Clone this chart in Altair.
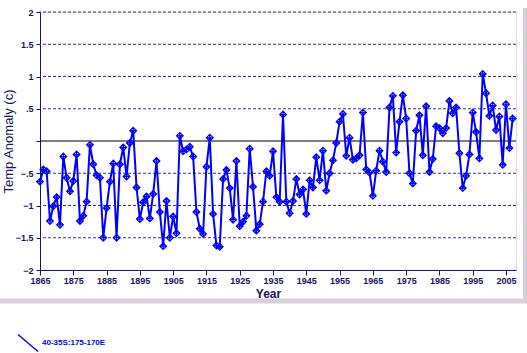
import altair as alt
import pandas as pd

years = list(range(1865, 2008))
anomaly = [
    -0.63, -0.44, -0.47, -1.24, -1.01, -0.87, -1.30, -0.24, -0.57, -0.78,
    -0.62, -0.21, -1.24, -1.16, -0.94, -0.06, -0.36, -0.53, -0.57, -1.50,
    -1.04, -0.63, -0.35, -1.50, -0.36, -0.10, -0.55, -0.03, 0.16, -0.72,
    -1.21, -0.95, -0.86, -1.20, -0.82, -0.31, -1.10, -1.63, -0.93, -1.50,
    -1.17, -1.43, 0.08, -0.16, -0.13, -0.09, -0.24, -1.10, -1.36, -1.44,
    -0.40, 0.05, -1.13, -1.62, -1.64, -0.59, -0.45, -0.73, -1.22, -0.31,
    -1.32, -1.25, -1.16, -0.12, -0.71, -1.39, -1.29, -0.94, -0.47, -0.54,
    -0.16, -0.87, -0.94, 0.41, -0.94, -1.12, -0.93, -0.59, -0.83, -0.75,
    -1.13, -0.61, -0.72, -0.25, -0.61, -0.15, -0.77, -0.50, -0.30, -0.03,
    0.30, 0.42, -0.23, 0.05, -0.29, -0.27, -0.22, 0.44, -0.44, -0.49,
    -0.85, -0.46, -0.15, -0.32, -0.48, 0.52, 0.70, -0.18, 0.30, 0.71,
    0.35, -0.50, -0.66, 0.16, 0.40, -0.22, 0.54, -0.48, -0.28, 0.23,
    0.20, 0.12, 0.20, 0.62, 0.43, 0.52, -0.19, -0.73, -0.54, -0.21,
    0.44, 0.14, -0.27, 1.04, 0.74, 0.39, 0.55, 0.17, 0.38, -0.37,
    0.57, -0.11, 0.35,
]
series_name = "40-35S:175-170E"
x_ticks = list(range(1865, 2006, 10))
y_ticks = [-2, -1.5, -1, -0.5, 0, 0.5, 1, 1.5, 2]
grid_values = [-1.5, -1, -0.5, 0.5, 1, 1.5, 2]

df = pd.DataFrame({"Year": years, "Anomaly": anomaly, "Series": series_name})
grid_df = pd.DataFrame({"v": grid_values})
zero_df = pd.DataFrame({"v": [0]})
one_df = pd.DataFrame({"a": [0]})

NAVY = "#14145a"
FONT = "Liberation Sans"

x_scale = alt.Scale(domain=[1865, 2008], nice=False, zero=False)
y_scale = alt.Scale(domain=[-2, 2], nice=False)

x_axis = alt.Axis(values=x_ticks, format="d", grid=False, labelFontSize=9,
                  labelFontWeight="bold", labelColor=NAVY, labelFont=FONT,
                  domainColor=NAVY, tickColor=NAVY, tickSize=5, labelPadding=1,
                  labelOverlap=False,
                  title="Year", titleFont=FONT, titleFontSize=12,
                  titleFontWeight="bold", titleColor=NAVY, titleX=228,
                  titleY=18, labelFlush=False)
y_axis = alt.Axis(values=y_ticks, grid=False, labelFontSize=9,
                  labelFontWeight="bold", labelColor=NAVY, labelFont=FONT,
                  domainColor=NAVY, tickColor=NAVY, tickSize=4, labelPadding=3,
                  labelOverlap=False,
                  labelExpr="datum.value == 0 ? '' : replace(format(datum.value, ''), '0.', '.')",
                  title="Temp Anomaly (c)", titleFont=FONT, titleFontSize=13,
                  titleFontWeight="normal", titleColor=NAVY, titleX=-25)

grid = alt.Chart(grid_df).mark_rule(color="#333388", strokeDash=[3, 2], strokeWidth=1).encode(
    y=alt.Y("v:Q", scale=y_scale, axis=y_axis)
)
zero = alt.Chart(zero_df).mark_rule(color="#000000", strokeWidth=1.2).encode(
    y=alt.Y("v:Q", scale=y_scale, axis=y_axis)
)

marker = "M-1,0L0,-1L1,0L0,1Z M-1,0L1,0 M0,-1L0,1"

line = alt.Chart(df).mark_line(strokeWidth=2).encode(
    x=alt.X("Year:Q", scale=x_scale, axis=x_axis),
    y=alt.Y("Anomaly:Q", scale=y_scale, axis=y_axis),
    color=alt.Color("Series:N", scale=alt.Scale(range=["#0000FF"]),
                    legend=alt.Legend(orient="none", legendX=-23, legendY=320,
                                      title=None, symbolType="M-1,-0.85L1,0.85",
                                      symbolSize=400, symbolStrokeWidth=1.5,
                                      labelColor="#0000FF", labelFontWeight="bold",
                                      labelFontSize=8, labelFont=FONT, padding=0,
                                      labelOffset=3)),
)
points = alt.Chart(df).mark_point(shape=marker, filled=False, size=45,
                                  strokeWidth=1.2, color="#0000FF", opacity=1).encode(
    x=alt.X("Year:Q", scale=x_scale, axis=x_axis),
    y=alt.Y("Anomaly:Q", scale=y_scale, axis=y_axis),
)

border_r = alt.Chart(one_df).mark_rule(color="#d8d0d8", strokeWidth=4).encode(
    x=alt.value(485), y=alt.value(-4), y2=alt.value(291)
)
border_b = alt.Chart(one_df).mark_rule(color="#d8d0d8", strokeWidth=5).encode(
    y=alt.value(289), x=alt.value(-40), x2=alt.value(487)
)

chart = alt.layer(border_r, border_b, grid, zero, line, points).properties(
    width=476, height=258,
    autosize=alt.AutoSizeParams(type="none"),
    padding={"left": 40, "top": 12, "right": 11, "bottom": 83},
).configure_view(stroke=None).configure(background="#ffffff").configure_axis(
    labelOverlap=False
)

chart.save("out.html", embed_options={"renderer": "svg", "actions": False})
